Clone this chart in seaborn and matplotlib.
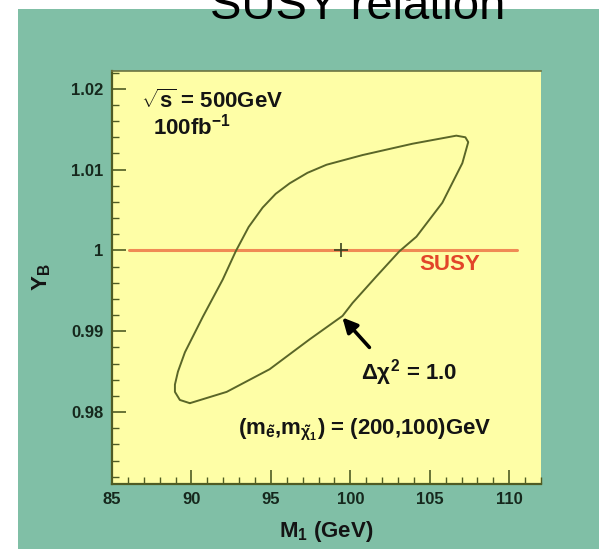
import matplotlib
matplotlib.use("Agg")
import matplotlib.pyplot as plt
from matplotlib.patches import Rectangle
from matplotlib.ticker import MultipleLocator
import pandas as pd
import seaborn as sns

# Delta chi^2 = 1 contour in the (M1, Y_B) plane, traced as a closed loop
contour_m1 = [89.90, 89.27, 88.96, 88.96, 89.15, 89.59, 90.72, 91.97, 92.79,
              93.60, 94.48, 95.30, 96.18, 97.30, 98.50, 100.77, 103.91, 106.67,
              107.24, 107.42, 107.05, 105.79, 104.16, 103.09, 101.60, 100.14,
              99.51, 97.44, 94.92, 92.22, 89.90]
contour_yb = [0.9811, 0.9815, 0.9825, 0.9834, 0.9850, 0.9874, 0.9918, 0.9964,
              0.9999, 1.0029, 1.0053, 1.0070, 1.0083, 1.0096, 1.0106, 1.0118,
              1.0132, 1.0142, 1.0140, 1.0134, 1.0108, 1.0059, 1.0017, 0.9999,
              0.9967, 0.9935, 0.9919, 0.9890, 0.9853, 0.9825, 0.9811]

# SUSY relation: Y_B = 1
susy_m1 = [86.1, 110.5]
susy_yb = [1.0, 1.0]

# best-fit point
best_m1 = [99.4]
best_yb = [1.0]

x_ticks = [85, 90, 95, 100, 105, 110]
x_tick_labels = ["85", "90", "95", "100", "105", "110"]
y_ticks = [0.98, 0.99, 1.00, 1.01, 1.02]
y_tick_labels = ["0.98", "0.99", "1", "1.01", "1.02"]

TEAL = "#80bfa6"
YELLOW = "#fefea6"
OLIVE = "#4f5c24"
INK = "#141414"

sns.set_theme(style="ticks")
plt.rcParams["font.family"] = ["Liberation Sans", "DejaVu Sans"]
plt.rcParams["mathtext.fontset"] = "custom"
plt.rcParams["mathtext.rm"] = "Liberation Sans:bold"
plt.rcParams["mathtext.bf"] = "Liberation Sans:bold"
plt.rcParams["mathtext.it"] = "Liberation Sans:bold"
plt.rcParams["mathtext.sf"] = "Liberation Sans:bold"

fig = plt.figure(figsize=(6.06, 5.49), dpi=100)
fig.patch.set_facecolor("white")

# teal slide panel behind the plot
fig.patches.append(Rectangle((18 / 606, 0), (599 - 18) / 606, (549 - 9) / 549,
                             transform=fig.transFigure, facecolor=TEAL,
                             edgecolor="none", zorder=-5))

fig.text(358 / 606, 1 - 19 / 549, "SUSY relation", fontsize=34,
         ha="center", va="baseline", color="black", zorder=5)

ax = fig.add_axes([112 / 606, 1 - 484 / 549, (541 - 112) / 606, (484 - 71) / 549])
ax.set_zorder(2)
ax.set_facecolor(YELLOW)

contour = pd.DataFrame({"M1": contour_m1, "YB": contour_yb})
susy = pd.DataFrame({"M1": susy_m1, "YB": susy_yb})
best = pd.DataFrame({"M1": best_m1, "YB": best_yb})

sns.lineplot(data=susy, x="M1", y="YB", ax=ax, color="#f08a55", lw=2.2,
             sort=False, estimator=None, zorder=2)
sns.lineplot(data=contour, x="M1", y="YB", ax=ax, color="#5a6628", lw=1.4,
             sort=False, estimator=None, zorder=3)
sns.scatterplot(data=best, x="M1", y="YB", ax=ax, marker="+", s=90,
                color="#3a4220", linewidth=1.2, zorder=4)

ax.set_xlim(85, 112)
ax.set_ylim(0.9711, 1.0222)
ax.set_xticks(x_ticks, labels=x_tick_labels, fontweight="bold")
ax.set_yticks(y_ticks, labels=y_tick_labels, fontweight="bold")
ax.xaxis.set_minor_locator(MultipleLocator(1))
ax.yaxis.set_minor_locator(MultipleLocator(0.002))
ax.tick_params(which="both", direction="in", color=OLIVE, top=False, right=False,
               labelcolor="#16281d", labelsize=12)
ax.tick_params(which="major", length=10, width=1.2, pad=6)
ax.tick_params(which="minor", length=5, width=1.0)

for side in ("left", "bottom"):
    ax.spines[side].set_color(OLIVE)
    ax.spines[side].set_linewidth(1.6)
ax.spines["top"].set_color("#6c7440")
ax.spines["top"].set_linewidth(1.2)
ax.spines["right"].set_visible(False)

ax.set_xlabel("M$_{1}$ (GeV)", fontsize=16, fontweight="bold", color=INK)
ax.set_ylabel("Y$_{\\mathbf{B}}$", fontsize=16, fontweight="bold", color=INK)
ax.xaxis.set_label_coords(0.5, -0.085)
ax.xaxis.label.set_va("top")
ax.yaxis.set_label_coords(-0.163, 0.5)
ax.yaxis.label.set_va("center")

txt = dict(fontsize=16, fontweight="bold", color=INK, va="center", ha="left")
ax.text(86.8, 1.0184, "$\\sqrt{s}$ = 500GeV", **txt)
ax.text(87.6, 1.0153, "100fb$^{-1}$", **txt)
ax.text(100.7, 0.9849, "$\\Delta\\chi^{2}$ = 1.0", **txt)
ax.text(92.9, 0.9778, "(m$_{\\tilde{e}}$,m$_{\\tilde{\\chi}_{1}}$) = (200,100)GeV", **txt)
ax.text(104.35, 0.9983, "SUSY", fontsize=16, fontweight="bold", color="#e2452a",
        va="center", ha="left")

ax.annotate("", xy=(99.5, 0.9917), xytext=(101.2, 0.9880),
            arrowprops=dict(arrowstyle="-|>", color="black", lw=2.6,
                            mutation_scale=22, shrinkA=0, shrinkB=0))

fig.savefig("out.png", dpi=100, facecolor=fig.get_facecolor())
